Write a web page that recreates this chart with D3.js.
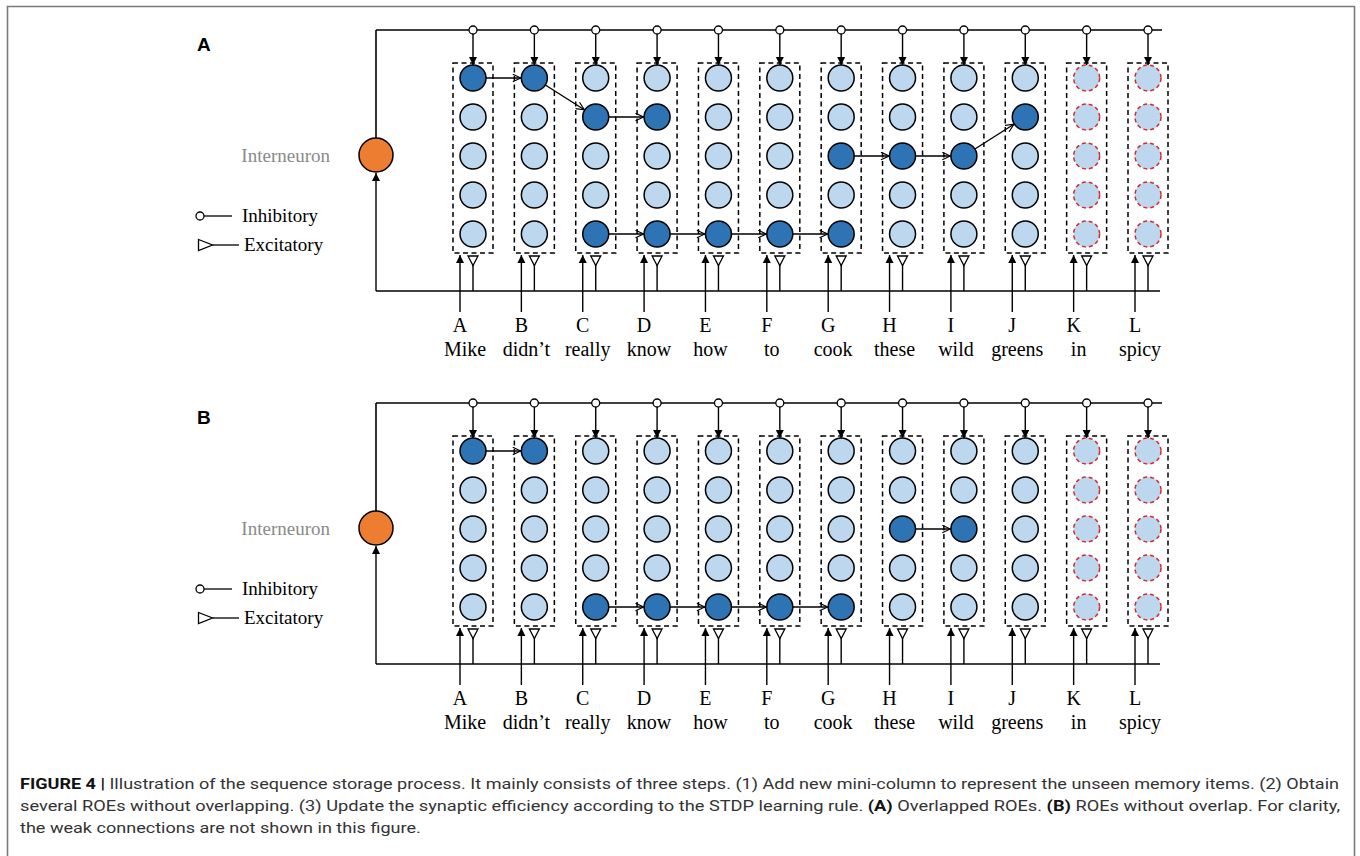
<!DOCTYPE html>
<html>
<head>
<meta charset="utf-8">
<script src="https://cdn.jsdelivr.net/npm/d3@7"></script>
<style>
  html, body { margin: 0; padding: 0; background: #fff; }
  svg { display: block; }
</style>
</head>
<body>
<svg id="fig" width="1360" height="856"></svg>
<script>
// ---------------- data ----------------
const columns = ["A","B","C","D","E","F","G","H","I","J","K","L"];
const words = ["Mike","didn\u2019t","really","know","how","to","cook","these","wild","greens","in","spicy"];
const unseenColumns = ["K","L"];          // newly added mini-columns (red dashed neurons)
const rows = [0,1,2,3,4];                 // neurons per mini-column
// ROE chains (column, row) for each panel
const chainsA = [
  [["A",0],["B",0],["C",1],["D",1]],
  [["C",4],["D",4],["E",4],["F",4],["G",4]],
  [["G",2],["H",2],["I",2],["J",1]]
];
const chainsB = [
  [["A",0],["B",0]],
  [["C",4],["D",4],["E",4],["F",4],["G",4]],
  [["H",2],["I",2]]
];
const panelLabels = ["A","B"];
const legendItems = ["Inhibitory","Excitatory"];
const interneuronLabel = "Interneuron";
const captionLines = [
  [{t:"FIGURE 4 | ",b:true},{t:"Illustration of the sequence storage process. It mainly consists of three steps. (1) Add new mini-column to represent the unseen memory items. (2) Obtain"}],
  [{t:"several ROEs without overlapping. (3) Update the synaptic efficiency according to the STDP learning rule. "},{t:"(A)",b:true},{t:" Overlapped ROEs. "},{t:"(B)",b:true},{t:" ROEs without overlap. For clarity,"}],
  [{t:"the weak connections are not shown in this figure."}]
];

// ---------------- styles ----------------
const C = {
  dark: "#2e74b5", light: "#bdd7ee", orange: "#ed7d31",
  red: "#d42a2a", ink: "#000", gray: "#8a8a8a", border: "#7a7a7a", caption: "#333"
};
const serif = "'Liberation Serif','Times New Roman',serif";
const sans = "'Liberation Sans',Arial,sans-serif";

const svg = d3.select("#fig");
const defs = svg.append("defs");
defs.append("marker").attr("id","mFill").attr("viewBox","0 0 10 10")
  .attr("refX",10).attr("refY",5).attr("markerWidth",8).attr("markerHeight",10)
  .attr("markerUnits","userSpaceOnUse").attr("orient","auto")
  .append("path").attr("d","M0,0 L10,5 L0,10 Z").attr("fill",C.ink);
defs.append("marker").attr("id","mOpen").attr("viewBox","0 0 10 10")
  .attr("refX",9.5).attr("refY",5).attr("markerWidth",9).attr("markerHeight",9)
  .attr("markerUnits","userSpaceOnUse").attr("orient","auto")
  .append("path").attr("d","M0.5,0.8 L9.5,5 L0.5,9.2").attr("fill","none")
  .attr("stroke",C.ink).attr("stroke-width",1.3);

// figure border (open at bottom)
svg.append("path").attr("d","M7.5,870 L7.5,6.5 L1354.5,6.5 L1354.5,870")
  .attr("fill","none").attr("stroke",C.border).attr("stroke-width",1.6);

// scales
const x = d3.scalePoint().domain(columns).range([473,1148]);
const y = d3.scalePoint().domain(rows).range([78,234]);
const R = 13;
const topY = 30, botY = 291, leftX = 376, rightX = 1162;
const boxTop = 63, boxBot = 253, boxHalf = 20;
const interY = 155, interR = 17;

function drawPanel(offset, label, chains) {
  const g = svg.append("g").attr("transform",`translate(0,${offset})`);
  const active = new Set();
  chains.forEach(ch => ch.forEach(([c,r]) => active.add(c+"|"+r)));

  g.append("text").attr("x",197).attr("y",51).attr("font-family",sans)
    .attr("font-weight","bold").attr("font-size",19).text(label);

  // frame lines
  g.append("line").attr("x1",leftX).attr("x2",rightX).attr("y1",topY).attr("y2",topY)
    .attr("stroke",C.ink).attr("stroke-width",1.6);
  g.append("line").attr("x1",leftX).attr("x2",rightX - 2).attr("y1",botY).attr("y2",botY)
    .attr("stroke",C.ink).attr("stroke-width",1.6);
  g.append("line").attr("x1",leftX).attr("x2",leftX).attr("y1",topY).attr("y2",interY - interR)
    .attr("stroke",C.ink).attr("stroke-width",1.6);
  g.append("line").attr("x1",leftX).attr("x2",leftX).attr("y1",botY).attr("y2",interY + interR + 1)
    .attr("stroke",C.ink).attr("stroke-width",1.4).attr("marker-end","url(#mFill)");
  g.append("circle").attr("cx",leftX).attr("cy",interY).attr("r",interR)
    .attr("fill",C.orange).attr("stroke",C.ink).attr("stroke-width",1.5);
  g.append("text").attr("x",330).attr("y",interY + 7).attr("text-anchor","end")
    .attr("font-family",serif).attr("font-size",19).attr("fill",C.gray).text(interneuronLabel);

  // legend
  const lg = g.append("g");
  lg.append("circle").attr("cx",200).attr("cy",216).attr("r",4).attr("fill","#fff")
    .attr("stroke",C.ink).attr("stroke-width",1.3);
  lg.append("line").attr("x1",204).attr("x2",232).attr("y1",216).attr("y2",216)
    .attr("stroke",C.ink).attr("stroke-width",1.3);
  lg.append("text").attr("x",242).attr("y",222).attr("font-family",serif).attr("font-size",19)
    .text(legendItems[0]);
  lg.append("path").attr("d","M198.5,239.5 L212.5,245 L198.5,250.5 Z").attr("fill","#fff")
    .attr("stroke",C.ink).attr("stroke-width",1.3);
  lg.append("line").attr("x1",212.5).attr("x2",239).attr("y1",245).attr("y2",245)
    .attr("stroke",C.ink).attr("stroke-width",1.3);
  lg.append("text").attr("x",244).attr("y",251).attr("font-family",serif).attr("font-size",19)
    .text(legendItems[1]);

  // columns
  const col = g.selectAll("g.col").data(columns).join("g").attr("class","col");
  col.append("line").attr("x1",d=>x(d)).attr("x2",d=>x(d)).attr("y1",topY+4).attr("y2",boxTop+2)
    .attr("stroke",C.ink).attr("stroke-width",1.4).attr("marker-end","url(#mFill)");
  col.append("circle").attr("cx",d=>x(d)).attr("cy",topY).attr("r",4).attr("fill","#fff")
    .attr("stroke",C.ink).attr("stroke-width",1.3);
  col.append("rect").attr("x",d=>x(d)-boxHalf).attr("y",boxTop).attr("width",2*boxHalf)
    .attr("height",boxBot-boxTop).attr("fill","none").attr("stroke",C.ink)
    .attr("stroke-width",1.5).attr("stroke-dasharray","5,3.5");
  col.append("line").attr("x1",d=>x(d)).attr("x2",d=>x(d)).attr("y1",265).attr("y2",botY)
    .attr("stroke",C.ink).attr("stroke-width",1.4);
  col.append("path").attr("d",d=>`M${x(d)-5},256 L${x(d)+5},256 L${x(d)},265.5 Z`)
    .attr("fill","#fff").attr("stroke",C.ink).attr("stroke-width",1.3);
  col.append("line").attr("x1",d=>x(d)-13).attr("x2",d=>x(d)-13).attr("y1",312).attr("y2",255)
    .attr("stroke",C.ink).attr("stroke-width",1.4).attr("marker-end","url(#mFill)");
  col.append("text").attr("x",d=>x(d)-13).attr("y",332).attr("text-anchor","middle")
    .attr("font-family",serif).attr("font-size",20).text(d=>d);
  col.append("text").attr("x",d=>x(d)-8).attr("y",356).attr("text-anchor","middle")
    .attr("font-family",serif).attr("font-size",20).text((d,i)=>words[i]);

  // neurons
  const cells = [];
  columns.forEach(c => rows.forEach(r => cells.push({c, r})));
  g.selectAll("circle.n").data(cells).join("circle").attr("class","n")
    .attr("cx",d=>x(d.c)).attr("cy",d=>y(d.r)).attr("r",R)
    .attr("fill",d=>active.has(d.c+"|"+d.r) ? C.dark : C.light)
    .attr("stroke",d=>unseenColumns.includes(d.c) ? C.red : C.ink)
    .attr("stroke-width",1.5)
    .attr("stroke-dasharray",d=>unseenColumns.includes(d.c) ? "4,3" : null);

  // ROE links
  const links = [];
  chains.forEach(ch => { for (let i=1;i<ch.length;i++) links.push([ch[i-1],ch[i]]); });
  g.selectAll("line.link").data(links).join("line").attr("class","link")
    .each(function([a,b]) {
      const x1 = x(a[0]), y1 = y(a[1]), x2 = x(b[0]), y2 = y(b[1]);
      const L = Math.hypot(x2-x1, y2-y1), ux = (x2-x1)/L, uy = (y2-y1)/L;
      d3.select(this).attr("x1",x1+ux*R).attr("y1",y1+uy*R)
        .attr("x2",x2-ux*(R+0.5)).attr("y2",y2-uy*(R+0.5));
    })
    .attr("stroke",C.ink).attr("stroke-width",1.4).attr("marker-end","url(#mOpen)");
}

drawPanel(0, panelLabels[0], chainsA);
drawPanel(373, panelLabels[1], chainsB);

// caption: first two lines are justified to the full width; the last line uses the same scaling ratio
const capFullWidth = 1319;
const capY = [789, 811, 833];
const capTexts = captionLines.map((parts, i) => {
  const t = svg.append("text").attr("x",20).attr("y",capY[i])
    .attr("font-family","'Liberation Sans Narrow','Roboto',Arial,sans-serif")
    .attr("font-size",15.5).attr("fill",C.caption);
  parts.forEach(p => t.append("tspan").attr("font-weight",p.b ? "bold" : null)
    .attr("fill",p.b ? "#111" : null).text(p.t));
  return t;
});
const natural = capTexts.map(t => t.node().getComputedTextLength());
const ratio = capFullWidth / natural[0];
capTexts.forEach((t, i) => {
  const len = i < 2 ? capFullWidth + (i === 1 ? 1 : 0) : natural[i] * ratio;
  t.attr("textLength", len).attr("lengthAdjust","spacingAndGlyphs");
});
</script>
</body>
</html>
